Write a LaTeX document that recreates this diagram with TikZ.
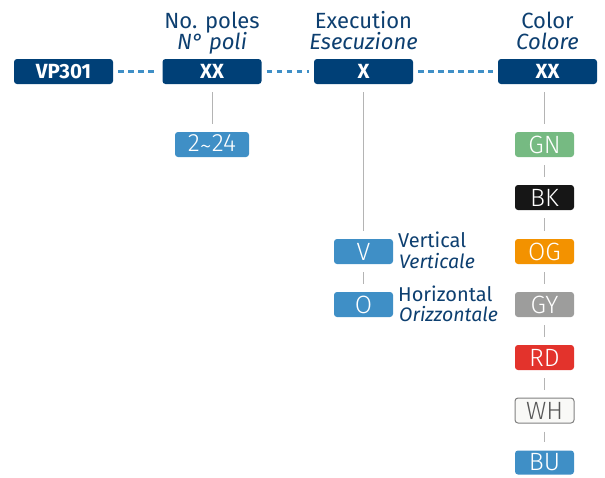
\documentclass[tikz,border=0pt]{standalone}
\usepackage{fontspec}
\setmainfont{Fira Sans}
\newfontfamily\lightf{Fira Sans Light}
\definecolor{navy}{RGB}{0,64,119}
\definecolor{headc}{RGB}{13,63,112}
\definecolor{lblue}{RGB}{63,143,198}
\definecolor{lgrey}{RGB}{180,180,180}
\definecolor{cgn}{RGB}{118,186,130}
\definecolor{cbk}{RGB}{22,22,22}
\definecolor{cog}{RGB}{243,146,0}
\definecolor{cgy}{RGB}{157,157,156}
\definecolor{crd}{RGB}{227,51,44}
\definecolor{cwh}{RGB}{249,249,247}
\definecolor{cwhd}{RGB}{128,128,128}
\definecolor{cwht}{RGB}{87,87,87}
\begin{document}
\begin{tikzpicture}[x=1pt,y=-1pt,
  topbox/.style={fill=navy, rounded corners=3pt, minimum width=99pt, minimum height=25pt, inner sep=0pt, text=white, font=\fontsize{20.5}{20.5}\selectfont\bfseries},
  subbox/.style={fill=#1, rounded corners=3pt, minimum width=59pt, minimum height=25pt, inner sep=0pt, text=white, font=\lightf\fontsize{25}{25}\selectfont},
  dashline/.style={draw=lblue, line width=2.5pt, dash pattern=on 5.5pt off 4.5pt},
  conn/.style={draw=lgrey, line width=1pt},
  head/.style={text=headc, font=\fontsize{22}{24}\selectfont, anchor=base, inner sep=0pt},
  headit/.style={text=headc, font=\fontsize{22}{24}\selectfont\itshape, anchor=base, inner sep=0pt},
  lab/.style={text=headc, font=\fontsize{20}{22}\selectfont, anchor=base west, inner sep=0pt},
  labit/.style={text=headc, font=\fontsize{19.5}{22}\selectfont\itshape, anchor=base west, inner sep=0pt}]
\useasboundingbox (0,0) rectangle (605,477);
% top row
\node[topbox] (vp) at (63.5,71.5) {VP301};
\node[topbox] (poles) at (212,71.5) {XX};
\node[topbox] (exec) at (363.5,71.5) {X};
\node[topbox] (color) at (547.5,71.5) {XX};
\draw[dashline] ([xshift=5pt]vp.east) -- ([xshift=-5pt]poles.west);
\draw[dashline] ([xshift=5pt]poles.east) -- ([xshift=-5pt]exec.west);
\draw[dashline] ([xshift=5pt]exec.east) -- ([xshift=-5pt]color.west);
% headers
\node[head] (h1) at (212,28) {No. poles};
\node[headit] (h1i) at (212,49) {N° poli};
\node[head] (h2) at (363.5,28) {Execution};
\node[headit] (h2i) at (363.5,49) {Esecuzione};
\node[head] (h3) at (547.5,28) {Color};
\node[headit] (h3i) at (547.5,49) {Colore};
% poles
\node[subbox=lblue, minimum width=74pt] (range) at (212,144.5) {2\raisebox{-0.25ex}{\textasciitilde}24};
\draw[conn] ([yshift=-8pt]poles.south) -- ([yshift=8pt]range.north);
% execution
\node[subbox=lblue] (v) at (363.5,251.5) {V};
\node[subbox=lblue] (o) at (363.5,304.5) {O};
\draw[conn] ([yshift=-8pt]exec.south) -- ([yshift=8pt]v.north);
\draw[conn] ([yshift=-8pt]v.south) -- ([yshift=8pt]o.north);
\node[lab] (vl1) at (398,247) {Vertical};
\node[labit] (vl2) at (399,268) {Verticale};
\node[lab] (hl1) at (398,301) {Horizontal};
\node[labit] (hl2) at (399,321) {Orizzontale};
% colors
\node[subbox=cgn] (gn) at (544.5,144.5) {GN};
\node[subbox=cbk] (bk) at (544.5,197.5) {BK};
\node[subbox=cog] (og) at (544.5,251.5) {OG};
\node[subbox=cgy] (gy) at (544.5,304.5) {GY};
\node[subbox=crd] (rd) at (544.5,357.5) {RD};
\node[subbox=cwh, draw=cwhd, line width=1pt, text=cwht] (wh) at (544.5,410.5) {WH};
\node[subbox=lblue, minimum height=24pt] (bu) at (544.5,462.5) {BU};
\draw[conn] ([yshift=-8pt]color.south -| gn.north) -- ([yshift=8pt]gn.north);
\draw[conn] ([yshift=-8pt]gn.south) -- ([yshift=8pt]bk.north);
\draw[conn] ([yshift=-8pt]bk.south) -- ([yshift=8pt]og.north);
\draw[conn] ([yshift=-8pt]og.south) -- ([yshift=8pt]gy.north);
\draw[conn] ([yshift=-8pt]gy.south) -- ([yshift=8pt]rd.north);
\draw[conn] ([yshift=-8pt]rd.south) -- ([yshift=8pt]wh.north);
\draw[conn] ([yshift=-8pt]wh.south) -- ([yshift=8pt]bu.north);
\end{tikzpicture}
\end{document}
